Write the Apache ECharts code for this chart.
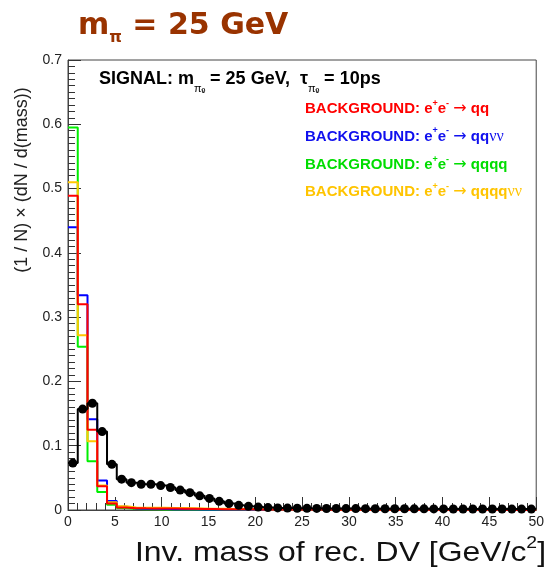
<!DOCTYPE html>
<html>
<head>
<meta charset="utf-8">
<script src="https://cdn.jsdelivr.net/npm/echarts@6/dist/echarts.min.js"></script>
<style>
html,body{margin:0;padding:0;background:#fff;}
#chart{width:547px;height:573px;}
</style>
</head>
<body>
<div id="chart"></div>
<script>
// Histogram binning: 48 bins over 0..50 GeV
const xMin = 0, xMax = 50, nBins = 48;
const binWidth = (xMax - xMin) / nBins;

// Signal: m = 25 GeV, tau = 10 ps (black points)
const signal = [0.073, 0.157, 0.166, 0.122, 0.071, 0.048, 0.0425, 0.040, 0.040, 0.038,
  0.035, 0.031, 0.027, 0.022, 0.018, 0.0135, 0.010, 0.0073, 0.0057, 0.0045,
  0.0038, 0.0033, 0.0030, 0.0028, 0.0026, 0.0025, 0.0024, 0.0023, 0.0022, 0.0022,
  0.0021, 0.0020, 0.0020, 0.0019, 0.0019, 0.0018, 0.0018, 0.0017, 0.0017, 0.0016,
  0.0016, 0.0016, 0.0015, 0.0015, 0.0015, 0.0014, 0.0014, 0.0014];

// Backgrounds
const bkgQQ = [0.489, 0.320, 0.125, 0.037, 0.010, 0.004, 0.0028, 0.0026, 0.0025, 0.0024,
  0.0022, 0.0020, 0.0018, 0.0016, 0.0015, 0.0013, 0.0012, 0.0011, 0.0010, 0.0009,
  0.0008, 0.0008, 0.0007, 0.0007, 0.0006, 0.0006, 0.0005, 0.0005, 0.0005, 0.0004,
  0.0004, 0.0004, 0.0004, 0.0003, 0.0003, 0.0003, 0.0003, 0.0003, 0.0002, 0.0002,
  0.0002, 0.0002, 0.0002, 0.0002, 0.0001, 0.0001, 0.0001, 0.0001];
const bkgQQnn = [0.440, 0.334, 0.141, 0.046, 0.014, 0.005, 0.0025, 0.0020, 0.0018, 0.0015,
  0.0013, 0.0011, 0.0010, 0.0009, 0.0008, 0.0007, 0.0006, 0.0006, 0.0005, 0.0005,
  0.0004, 0.0004, 0.0004, 0.0003, 0.0003, 0.0003, 0.0003, 0.0002, 0.0002, 0.0002,
  0.0002, 0.0002, 0.0002, 0.0001, 0.0001, 0.0001, 0.0001, 0.0001, 0.0001, 0.0001,
  0.0001, 0.0001, 0.0001, 0.0001, 0.0001, 0.0001, 0.0001, 0.0001];
const bkgQQQQ = [0.595, 0.254, 0.076, 0.028, 0.008, 0.003, 0.0015, 0.0012, 0.0010, 0.0009,
  0.0008, 0.0007, 0.0006, 0.0005, 0.0005, 0.0004, 0.0004, 0.0003, 0.0003, 0.0003,
  0.0002, 0.0002, 0.0002, 0.0002, 0.0002, 0.0001, 0.0001, 0.0001, 0.0001, 0.0001,
  0.0001, 0.0001, 0.0001, 0.0001, 0.0001, 0.0001, 0.0001, 0.0001, 0.0001, 0.0001,
  0.0001, 0.0001, 0.0001, 0.0001, 0.0001, 0.0001, 0.0001, 0.0001];
const bkgQQQQnn = [0.510, 0.272, 0.107, 0.038, 0.012, 0.006, 0.0038, 0.0036, 0.0035, 0.0034,
  0.0032, 0.0030, 0.0028, 0.0024, 0.0020, 0.0018, 0.0016, 0.0014, 0.0012, 0.0010,
  0.0009, 0.0008, 0.0008, 0.0007, 0.0007, 0.0006, 0.0006, 0.0005, 0.0005, 0.0005,
  0.0004, 0.0004, 0.0004, 0.0004, 0.0003, 0.0003, 0.0003, 0.0003, 0.0003, 0.0002,
  0.0002, 0.0002, 0.0002, 0.0002, 0.0002, 0.0002, 0.0001, 0.0001];

const xTicks = [0, 5, 10, 15, 20, 25, 30, 35, 40, 45, 50];
const yTicks = [0, 0.1, 0.2, 0.3, 0.4, 0.5, 0.6, 0.7];

const COL = {red: '#ff0000', blue: '#0000ff', green: '#00ee00', yellow: '#ffc800', black: '#000000'};

function stepData(vals) {
  const d = vals.map((v, i) => [xMin + i * binWidth, v]);
  d.push([xMin + vals.length * binWidth, vals[vals.length - 1]]);
  return d;
}
function centerData(vals) {
  return vals.map((v, i) => [xMin + (i + 0.5) * binWidth, v]);
}
function histSeries(name, vals, color, z) {
  return {
    name: name, type: 'line', step: 'end', data: stepData(vals),
    showSymbol: false, symbol: 'none', z: z,
    lineStyle: {color: color, width: 2}, silent: true
  };
}

const chart = echarts.init(document.getElementById('chart'), null, {renderer: 'canvas'});
const SANS = '"Liberation Sans", Arial, sans-serif';

function bkgText(color, tail) {
  return {
    type: 'text', z: 100,
    style: {
      text: '{b|BACKGROUND: e}{sp|+}{b|e}{sp|-}{n| }{ar|\u2192}{n| }' + tail,
      fill: color,
      rich: {
        b: {fontFamily: SANS, fontWeight: 'bold', fontSize: 15, lineHeight: 20, fill: color},
        sp: {fontFamily: SANS, fontWeight: 'bold', fontSize: 9, lineHeight: 10, verticalAlign: 'top', fill: color},
        n: {fontFamily: SANS, fontWeight: 'normal', fontSize: 15, lineHeight: 20, fill: color},
        ar: {fontFamily: '"DejaVu Sans", sans-serif', fontWeight: 'normal', fontSize: 16, lineHeight: 20, fill: color},
        nn: {fontFamily: '"Liberation Serif", serif', fontWeight: 'normal', fontSize: 16, lineHeight: 20, fill: color}
      },
      align: 'left', verticalAlign: 'top'
    }
  };
}

const option = {
  animation: false,
  backgroundColor: '#ffffff',
  grid: {left: 68, right: 10, top: 60, bottom: 63, show: true, borderColor: '#444', borderWidth: 1, backgroundColor: 'transparent'},
  xAxis: {
    type: 'value', min: xMin, max: xMax, interval: 5,
    axisLine: {show: true, onZero: false, lineStyle: {color: '#444', width: 1}},
    axisTick: {show: true, inside: true, length: 13, lineStyle: {color: '#333'}},
    minorTick: {show: true, splitNumber: 5, length: 7, lineStyle: {color: '#333'}},
    splitLine: {show: false},
    axisLabel: {fontFamily: SANS, fontSize: 14, color: '#222', margin: 5,
      formatter: v => xTicks.indexOf(v) >= 0 ? String(v) : ''}
  },
  yAxis: {
    type: 'value', min: 0, max: 0.7, interval: 0.1,
    axisLine: {show: true, lineStyle: {color: '#444', width: 1}},
    axisTick: {show: true, inside: true, length: 13, lineStyle: {color: '#333'}},
    minorTick: {show: true, splitNumber: 10, length: 7, lineStyle: {color: '#333'}},
    splitLine: {show: false},
    axisLabel: {fontFamily: SANS, fontSize: 14, color: '#222', margin: 6,
      formatter: v => { const t = yTicks.find(y => Math.abs(y - v) < 1e-9); return t === undefined ? '' : (t === 0 ? '0' : t.toFixed(1)); }}
  },
  series: [
    histSeries('qqqq', bkgQQQQ, COL.green, 2),
    histSeries('qqnn', bkgQQnn, COL.blue, 3),
    histSeries('qqqqnn', bkgQQQQnn, COL.yellow, 4),
    histSeries('qq', bkgQQ, COL.red, 5),
    histSeries('signal', signal, COL.black, 6),
    {
      name: 'signalPts', type: 'scatter', data: centerData(signal), z: 7,
      symbol: 'circle', symbolSize: 9, itemStyle: {color: '#000', opacity: 1}, silent: true
    }
  ],
  graphic: [
    {
      type: 'text', left: 78, top: 11, z: 100,
      style: {
        text: '{m|m}{s|\u03c0}{m| = 25 GeV}',
        rich: {
          m: {fontFamily: '"DejaVu Sans", Verdana, sans-serif', fontWeight: 'bold', fontSize: 30, lineHeight: 40, fill: '#993300'},
          s: {fontFamily: '"DejaVu Sans", Verdana, sans-serif', fontWeight: 'bold', fontSize: 16, lineHeight: 14, verticalAlign: 'bottom', fill: '#993300'}
        }
      }
    },
    {
      type: 'text', x: 99, y: 64.5, z: 100,
      style: {
        text: '{b|SIGNAL: m}{pi|\u03c0}{z|0}{v|v}{b| = 25 GeV,  \u03c4}{pi|\u03c0}{z|0}{v|v}{b| = 10ps}',
        align: 'left', verticalAlign: 'top',
        rich: {
          b: {fontFamily: SANS, fontWeight: 'bold', fontSize: 18, lineHeight: 30, fill: '#000'},
          pi: {fontFamily: SANS, fontWeight: 'normal', fontSize: 11, lineHeight: 19, verticalAlign: 'bottom', fill: '#000'},
          z: {fontFamily: SANS, fontWeight: 'normal', fontSize: 7, lineHeight: 24, verticalAlign: 'bottom', width: 0, fill: '#000'},
          v: {fontFamily: SANS, fontWeight: 'normal', fontSize: 7, lineHeight: 4, verticalAlign: 'bottom', fill: '#000'}
        }
      }
    },
    Object.assign(bkgText(COL.red, '{b|qq}'), {x: 305, y: 99}),
    Object.assign(bkgText('#1010ee', '{b|qq}{nn|\u03bd\u03bd}'), {x: 305, y: 126.5}),
    Object.assign(bkgText('#00dd00', '{b|qqqq}'), {x: 305, y: 155}),
    Object.assign(bkgText('#ffc400', '{b|qqqq}{nn|\u03bd\u03bd}'), {x: 305, y: 182}),
    {
      type: 'text', x: 22, y: 180, rotation: Math.PI / 2, z: 100,
      style: {
        text: '(1 / N) \u00d7 (dN / d(mass))',
        fontFamily: SANS, fontSize: 18, fill: '#222',
        align: 'center', verticalAlign: 'middle'
      }
    },
    {
      type: 'text', x: 546, y: 553, scaleX: 1.14, z: 100,
      style: {
        text: '{t|Inv. mass of rec. DV [GeV/c}{sup|2}{t|]}',
        align: 'right', verticalAlign: 'middle',
        rich: {
          t: {fontFamily: SANS, fontSize: 28, lineHeight: 36, fill: '#111'},
          sup: {fontFamily: SANS, fontSize: 17, lineHeight: 20, verticalAlign: 'top', fill: '#111'}
        }
      }
    }
  ]
};
chart.setOption(option);
</script>
</body>
</html>
